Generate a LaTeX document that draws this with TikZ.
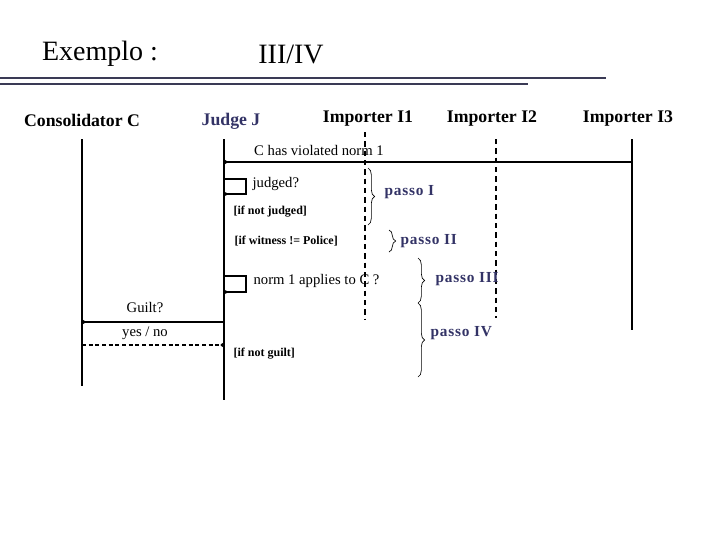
\documentclass[tikz,border=0pt]{standalone}
\usepackage{fontspec}
\setmainfont{Liberation Serif}
\usetikzlibrary{arrows.meta,positioning,calc,decorations.pathreplacing}
\definecolor{exnavy}{HTML}{333366}
\definecolor{exrule}{HTML}{3A3A55}

\begin{document}
\begin{tikzpicture}[x=0.75pt,y=-0.75pt,
  actor/.style={font=\fontsize{13.3}{15}\selectfont\bfseries},
  msg/.style={font=\fontsize{11}{13}\selectfont,inner sep=1pt},
  guard/.style={font=\fontsize{9}{11}\selectfont\bfseries,inner sep=1pt,anchor=west},
  passo/.style={font=\fontsize{11.5}{13}\selectfont\bfseries\addfontfeatures{LetterSpace=5},
                text=exnavy,anchor=west,inner sep=1pt},
  life/.style={line width=0.8pt},
  dlife/.style={line width=0.8pt,dash pattern=on 4pt off 3pt},
  call/.style={line width=1.6pt,-{Circle[length=2.5pt]}},
  self/.style={line width=0.8pt,-{Circle[length=2.5pt]}},
  reply/.style={line width=1.2pt,dash pattern=on 3pt off 2pt,-{Circle[length=2.5pt]}},
  brc/.style={decorate,decoration={brace,amplitude=5pt},line width=0.5pt}
]
  \useasboundingbox (0,0) rectangle (720,540);

  % ---- Title and rules ---------------------------------------
  \node[font=\fontsize{21}{24}\selectfont] (title) at (100,54) {Exemplo :};
  \node[font=\fontsize{21}{24}\selectfont] (part) at (291,54) {III/IV};
  \coordinate (r1a) at (0,78);  \coordinate (r1b) at (606,78);
  \coordinate (r2a) at (0,84);  \coordinate (r2b) at (528,84);
  \draw[exrule,line width=0.8pt] (r1a) -- (r1b);
  \draw[exrule,line width=0.8pt] (r2a) -- (r2b);

  % ---- Actors ------------------------------------------------
  \node[actor] (cons) at (82,120) {Consolidator C};
  \node[actor,text=exnavy] (judge) at (231,121) {Judge J};
  \node[actor] (imp1) at (368,119) {Importer I1};
  \node[actor] (imp2) at (492,119) {Importer I2};
  \node[actor] (imp3) at (628,119) {Importer I3};

  % ---- Lifelines ---------------------------------------------
  \coordinate (cons top) at (82,139);   \coordinate (cons bot) at (82,386);
  \coordinate (judge top) at (224,139); \coordinate (judge bot) at (224,400);
  \coordinate (imp1 top) at (365,132);  \coordinate (imp1 bot) at (365,320);
  \coordinate (imp2 top) at (496,139);  \coordinate (imp2 bot) at (496,318);
  \coordinate (imp3 top) at (632,139);  \coordinate (imp3 bot) at (632,330);
  \draw[life] (cons top) -- (cons bot);
  \draw[life] (judge top) -- (judge bot);
  \draw[dlife] (imp1 top) -- (imp1 bot);
  \draw[dlife] (imp2 top) -- (imp2 bot);
  \draw[life] (imp3 top) -- (imp3 bot);

  % ---- Messages ----------------------------------------------
  % 1. Importer I3 to Judge
  \coordinate (m1a) at (632,162); \coordinate (m1b) at (224,162);
  \draw[call] (m1a) -- (m1b);
  \node[msg] (violated) at (319,150) {C has violated norm 1};

  % 2. judged? (self call)
  \coordinate (s1a) at (224,179); \coordinate (s1b) at (246,179);
  \coordinate (s1c) at (246,194); \coordinate (s1d) at (224,194);
  \draw[self] (s1a) -- (s1b) -- (s1c) -- (s1d);
  \node[msg,anchor=west] (judged) at (251,184) {judged?};

  \node[guard] (notjudged) at (232,212) {[if not judged]};
  \node[guard] (witness) at (233,241) {[if witness != Police]};

  % 3. norm 1 applies to C? (self call)
  \coordinate (s2a) at (224,276); \coordinate (s2b) at (246,276);
  \coordinate (s2c) at (246,292); \coordinate (s2d) at (224,292);
  \draw[self] (s2a) -- (s2b) -- (s2c) -- (s2d);
  \node[msg,anchor=west] (applies) at (252,281) {norm 1 applies to C ?};

  % 4. Judge to Consolidator and back
  \coordinate (m2a) at (224,322); \coordinate (m2b) at (82,322);
  \draw[call] (m2a) -- (m2b);
  \node[msg] (guilt) at (145,308) {Guilt?};
  \coordinate (m3a) at (82,345); \coordinate (m3b) at (224,345);
  \draw[reply] (m3a) -- (m3b);
  \node[msg] (yesno) at (145,333) {yes / no};
  \node[guard] (notguilt) at (232,354) {[if not guilt]};

  % ---- Steps (braces) ----------------------------------------
  \coordinate (b1a) at (368,168); \coordinate (b1b) at (368,225);
  \draw[brc] (b1a) -- (b1b);
  \node[passo] (p1) at (383,192) {passo I};
  \coordinate (b2a) at (389,230); \coordinate (b2b) at (389,252);
  \draw[brc] (b2a) -- (b2b);
  \node[passo] (p2) at (399,241) {passo II};
  \coordinate (b3a) at (418,258); \coordinate (b3b) at (418,303);
  \draw[brc] (b3a) -- (b3b);
  \node[passo] (p3) at (434,279) {passo III};
  \coordinate (b4a) at (418,303); \coordinate (b4b) at (418,377);
  \draw[brc] (b4a) -- (b4b);
  \node[passo] (p4) at (429,333) {passo IV};

\end{tikzpicture}
\end{document}
